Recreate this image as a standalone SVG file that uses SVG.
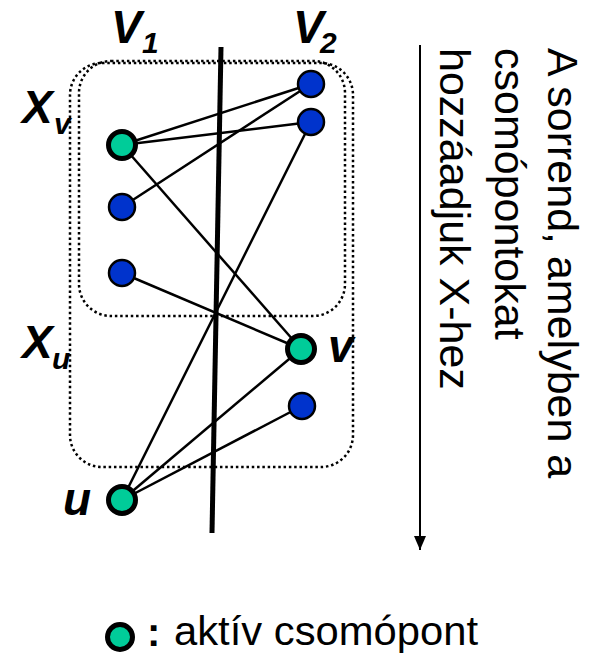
<svg xmlns="http://www.w3.org/2000/svg" width="595" height="655" viewBox="0 0 595 655">
<style>
.edge{stroke:#000;stroke-width:2.5;fill:none}
.box{fill:none;stroke:#000;stroke-width:2.5;stroke-dasharray:2.5 2.8}
.blue{fill:#0033CC;stroke:#000;stroke-width:2.5}
.act{fill:#00CC99;stroke:#000;stroke-width:5}
.lbl{font-family:"Liberation Sans",Arial,sans-serif;font-weight:bold;font-style:italic;fill:#000}
.big{font-size:46px}
.sub{font-size:30px}
.txt{font-family:"Liberation Sans",Arial,sans-serif;font-size:43px;fill:#000}
</style>
<defs>
<marker id="arr" markerWidth="14" markerHeight="12" refX="14" refY="6" orient="auto" markerUnits="userSpaceOnUse" viewBox="0 0 14 12">
<path d="M0,0 L14,6 L0,12 Z" fill="#000"/>
</marker>
</defs>
<rect fill="#fff" x="0" y="0" width="595" height="655"/>
<g id="boxes">
<rect class="box" x="70" y="63" width="283" height="404" rx="32"/>
<rect class="box" x="79" y="61" width="266" height="255" rx="32"/>
</g>
<g id="cut">
<line x1="221" y1="47" x2="212" y2="533" stroke="#000" stroke-width="5"/>
</g>
<g id="connectors">
<line class="edge" x1="122" y1="145" x2="311" y2="84"/>
<line class="edge" x1="122" y1="145" x2="311" y2="122"/>
<line class="edge" x1="122" y1="145" x2="301" y2="349"/>
<line class="edge" x1="122" y1="207" x2="311" y2="84"/>
<line class="edge" x1="122" y1="273" x2="301" y2="349"/>
<line class="edge" x1="122" y1="500" x2="311" y2="122"/>
<line class="edge" x1="122" y1="500" x2="301" y2="349"/>
<line class="edge" x1="122" y1="500" x2="302" y2="406"/>
</g>
<g id="node-a"><circle class="act" cx="122" cy="145" r="13.5"/></g>
<g id="node-b"><circle class="blue" cx="311" cy="84" r="13"/></g>
<g id="node-c"><circle class="blue" cx="311" cy="122" r="13"/></g>
<g id="node-d"><circle class="blue" cx="122" cy="207" r="13"/></g>
<g id="node-e"><circle class="blue" cx="122" cy="273" r="13"/></g>
<g id="node-v"><circle class="act" cx="301" cy="349" r="13.5"/></g>
<g id="node-f"><circle class="blue" cx="302" cy="406" r="13"/></g>
<g id="node-u"><circle class="act" cx="122" cy="500" r="13.5"/></g>
<g id="labels">
<text class="lbl big" x="111" y="43">V</text><text class="lbl sub" x="142" y="53">1</text>
<text class="lbl big" x="293" y="43">V</text><text class="lbl sub" x="320" y="53">2</text>
<text class="lbl big" x="22" y="123">X</text><text class="lbl sub" x="54" y="134">v</text>
<text class="lbl big" x="22" y="358">X</text><text class="lbl sub" x="52" y="369">u</text>
<text class="lbl big" x="63" y="515">u</text>
<text class="lbl big" x="328" y="362">v</text>
</g>
<g id="order">
<line x1="420" y1="45" x2="420" y2="550" stroke="#000" stroke-width="2" marker-end="url(#arr)"/>
<text class="txt" transform="translate(548,48) rotate(90)">A sorrend, amelyben a</text>
<text class="txt" transform="translate(495,48) rotate(90)">csomópontokat</text>
<text class="txt" transform="translate(440,48) rotate(90)">hozzáadjuk X-hez</text>
</g>
<g id="legend">
<circle class="act" cx="120" cy="637" r="12.5"/>
<text x="147" y="646" font-family="Liberation Sans,Arial,sans-serif" font-weight="bold" font-size="40">:</text>
<text x="174" y="645" font-family="Liberation Sans,Arial,sans-serif" font-size="41" textLength="304" lengthAdjust="spacingAndGlyphs">aktív csomópont</text>
</g>
</svg>
